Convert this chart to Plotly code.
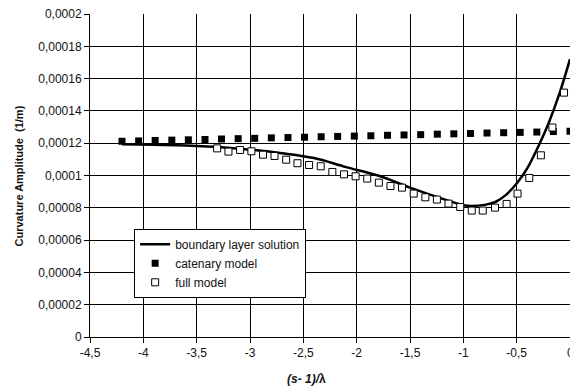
import plotly.graph_objects as go

# boundary layer solution (line)
bl_x = [-4.2, -3.9, -3.6, -3.3, -3.0, -2.7, -2.4, -2.1, -1.8, -1.5, -1.25, -1.0, -0.92,
        -0.8, -0.7, -0.6, -0.5, -0.4, -0.3, -0.2, -0.1, 0.0]
bl_y = [0.0001193, 0.0001190, 0.0001186, 0.0001176, 0.0001160, 0.0001138, 0.0001108,
        0.0001052, 0.0001000, 0.0000925, 0.0000868, 0.0000816, 0.0000811,
        0.0000818, 0.0000836, 0.0000880, 0.0000950, 0.0001045, 0.0001176, 0.0001325,
        0.0001505, 0.0001720]

# catenary model (filled squares)
cat_x = [-4.2, -4.044, -3.889, -3.733, -3.578, -3.422, -3.267, -3.111, -2.956, -2.8,
         -2.644, -2.489, -2.333, -2.178, -2.022, -1.867, -1.711, -1.556, -1.4, -1.244,
         -1.089, -0.933, -0.778, -0.622, -0.467, -0.311, -0.156, 0.0]
cat_y = [0.0001212, 0.0001214, 0.0001217, 0.0001219, 0.0001221, 0.0001223, 0.0001226,
         0.0001228, 0.0001230, 0.0001233, 0.0001235, 0.0001237, 0.0001240, 0.0001242,
         0.0001244, 0.0001246, 0.0001249, 0.0001251, 0.0001253, 0.0001256, 0.0001258,
         0.0001260, 0.0001263, 0.0001265, 0.0001267, 0.0001269, 0.0001272, 0.0001274]

# full model (open squares)
full_x = [-3.308, -3.202, -3.093, -2.987, -2.878, -2.770, -2.661, -2.555, -2.446, -2.337,
          -2.228, -2.119, -2.010, -1.901, -1.792, -1.683, -1.575, -1.465, -1.356, -1.248,
          -1.139, -1.029, -0.921, -0.818, -0.703, -0.594, -0.492, -0.382, -0.273, -0.165,
          -0.056]
full_y = [0.0001168, 0.0001148, 0.0001158, 0.0001150, 0.0001129, 0.0001121, 0.0001098,
          0.0001076, 0.0001065, 0.0001057, 0.0001022, 0.0001007, 0.0000995, 0.0000981,
          0.0000956, 0.0000935, 0.0000925, 0.0000888, 0.0000865, 0.0000851, 0.0000826,
          0.0000805, 0.0000783, 0.0000783, 0.0000801, 0.0000824, 0.0000888, 0.0000985,
          0.0001125, 0.0001297, 0.0001513]

x_ticks = [-4.5, -4, -3.5, -3, -2.5, -2, -1.5, -1, -0.5, 0]
x_tick_text = ["-4,5", "-4", "-3,5", "-3", "-2,5", "-2", "-1,5", "-1", "-0,5", "0"]
y_ticks = [0, 0.00002, 0.00004, 0.00006, 0.00008, 0.0001, 0.00012, 0.00014, 0.00016,
           0.00018, 0.0002]
y_tick_text = ["0", "0,00002", "0,00004", "0,00006", "0,00008", "0,0001", "0,00012",
               "0,00014", "0,00016", "0,00018", "0,0002"]

FONT = "Liberation Sans, Arial, sans-serif"

fig = go.Figure()
fig.add_trace(go.Scatter(x=bl_x, y=bl_y, mode="lines", name="boundary layer solution",
                         line=dict(color="black", width=2.5, shape="spline", smoothing=1.0)))
fig.add_trace(go.Scatter(x=cat_x, y=cat_y, mode="markers", name="catenary model",
                         marker=dict(symbol="square", size=7, color="black",
                                     line=dict(width=0))))
fig.add_trace(go.Scatter(x=full_x, y=full_y, mode="markers", name="full model",
                         marker=dict(symbol="square", size=7, color="white",
                                     line=dict(width=1, color="black"))))

fig.update_layout(
    width=570, height=389,
    margin=dict(l=90, r=0, t=14, b=52),
    paper_bgcolor="white", plot_bgcolor="white",
    font=dict(family=FONT, size=12, color="#111"),
    showlegend=True,
    legend=dict(x=0.092, y=0.335, xanchor="left", yanchor="top",
                bgcolor="white", bordercolor="black", borderwidth=1,
                font=dict(family=FONT, size=12, color="#111"),
                itemwidth=30, tracegroupgap=0),
    xaxis=dict(range=[-4.5, 0], tickvals=x_ticks, ticktext=x_tick_text,
               showgrid=True, gridcolor="black", gridwidth=1,
               showline=True, linecolor="black", linewidth=1,
               ticks="outside", ticklen=5, tickcolor="black", zeroline=False,
               tickfont=dict(family=FONT, size=12, color="#111")),
    yaxis=dict(range=[0, 0.0002], tickvals=y_ticks, ticktext=y_tick_text,
               showgrid=True, gridcolor="black", gridwidth=1,
               showline=True, linecolor="black", linewidth=1,
               ticks="outside", ticklen=5, tickcolor="black", zeroline=False,
               tickfont=dict(family=FONT, size=12, color="#111")),
    annotations=[
        dict(text=x_tick_text[-1], xref="x", yref="paper", x=x_ticks[-1], y=0,
             yshift=-16, xanchor="center", yanchor="middle", showarrow=False,
             font=dict(family=FONT, size=12, color="#111")),
        dict(text="<b><i>(s- 1)/</i>λ</b>", xref="paper", yref="paper",
             x=(306 - 90) / 480, y=-0.13, xanchor="center", yanchor="middle",
             showarrow=False, font=dict(family=FONT, size=12, color="#111")),
        dict(text="<b>Curvature Amplitude  (1/m)</b>", xref="paper", yref="paper",
             x=-0.148, y=0.5, xanchor="center", yanchor="middle", textangle=-90,
             showarrow=False, font=dict(family=FONT, size=11, color="#111")),
    ],
)

fig.write_html("out.html")
